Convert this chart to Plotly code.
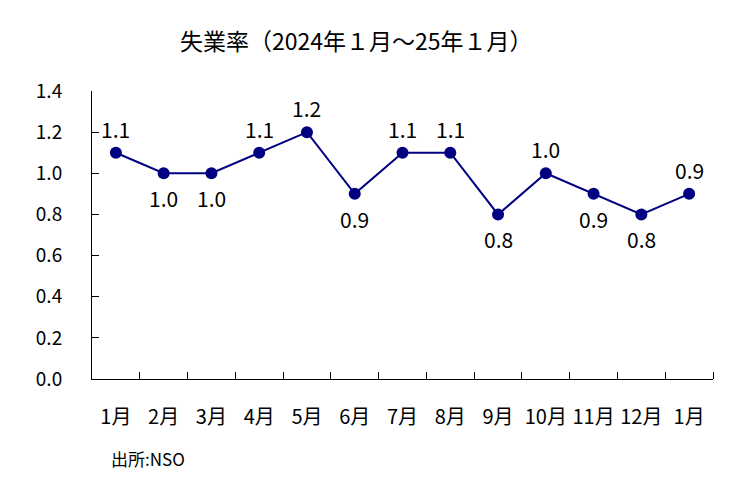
import plotly.graph_objects as go

months = ["1月", "2月", "3月", "4月", "5月", "6月", "7月", "8月", "9月", "10月", "11月", "12月", "1月"]
rates = [1.1, 1.0, 1.0, 1.1, 1.2, 0.9, 1.1, 1.1, 0.8, 1.0, 0.9, 0.8, 0.9]
label_pos = ["up", "down", "down", "up", "up", "down", "up", "up", "down", "up", "down", "down", "up"]
y_ticks = [0.0, 0.2, 0.4, 0.6, 0.8, 1.0, 1.2, 1.4]

FONT = "Noto Sans CJK JP"
NAVY = "#000080"
xs = list(range(len(months)))

W, H = 732, 470  # page body adds 8px margin

fig = go.Figure()
fig.add_trace(go.Scatter(
    x=xs, y=rates, mode="lines+markers",
    line=dict(color=NAVY, width=2),
    marker=dict(color=NAVY, size=12),
    hoverinfo="skip", showlegend=False,
))

for x, v, p in zip(xs, rates, label_pos):
    fig.add_annotation(
        x=x, y=v, text=f"{v:.1f}", showarrow=False,
        yshift=24 if p == "up" else -25,
        font=dict(family=FONT, size=21, color="black"),
    )

fig.add_annotation(
    xref="paper", yref="paper", x=(109 - 92) / 621, y=(379 - 458) / 288,
    xanchor="left", yanchor="middle",
    text="出所:NSO", showarrow=False,
    font=dict(family=FONT, size=17, color="black"),
)

fig.update_layout(
    width=W, height=H,
    margin=dict(l=84, r=27, t=83, b=99),
    paper_bgcolor="white", plot_bgcolor="white",
    title=dict(
        text="失業率（2024年１月～25年１月）", xref="container", yref="container",
        x=(180 - 8) / W, xanchor="left", y=1 - (42 - 8) / H, yanchor="middle",
        font=dict(family=FONT, size=23, color="black"),
    ),
    xaxis=dict(
        range=[-0.5, len(months) - 0.5], tickmode="array", tickvals=xs, ticktext=months,
        ticks="", showgrid=False, zeroline=False,
        showline=True, linecolor="black", linewidth=1,
        tickfont=dict(family=FONT, size=20, color="black"),
        ticklabelstandoff=20,
        minor=dict(tickmode="array", tickvals=[i + 0.5 for i in xs], ticks="inside",
                   ticklen=7, tickcolor="black", showgrid=False),
    ),
    yaxis=dict(
        range=[0, 1.4], tickmode="array", tickvals=y_ticks,
        ticktext=[f"{t:.1f}" for t in y_ticks],
        ticks="inside", ticklen=7, tickcolor="black",
        showgrid=False, zeroline=False,
        showline=True, linecolor="black", linewidth=1,
        tickfont=dict(family=FONT, size=19, color="black"),
        ticklabelstandoff=25,
    ),
)

fig.write_html("out.html")
